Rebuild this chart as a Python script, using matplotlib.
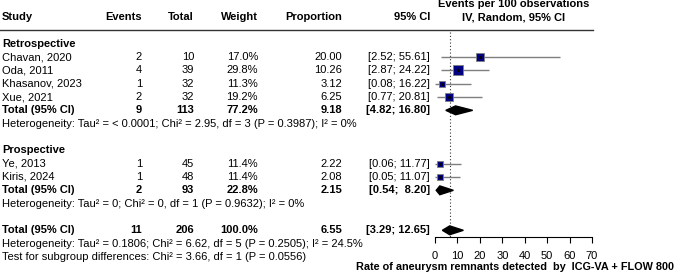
import matplotlib
matplotlib.use("Agg")
import matplotlib.pyplot as plt

plt.rcParams['font.family'] = ['Liberation Sans', 'DejaVu Sans']
plt.rcParams['font.size'] = 8

# dane - retrospektywne
retro_names = ["Chavan, 2020", "Oda, 2011", "Khasanov, 2023", "Xue, 2021"]
retro_events = [2, 4, 1, 2]
retro_total = [10, 39, 32, 32]
retro_weight = [17.0, 29.8, 11.3, 19.2]
retro_prop = [20.00, 10.26, 3.12, 6.25]
retro_lo = [2.52, 2.87, 0.08, 0.77]
retro_hi = [55.61, 24.22, 16.22, 20.81]

# dane - prospektywne
pro_names = ["Ye, 2013", "Kiris, 2024"]
pro_events = [1, 1]
pro_total = [45, 48]
pro_weight = [11.4, 11.4]
pro_prop = [2.22, 2.08]
pro_lo = [0.06, 0.05]
pro_hi = [11.77, 11.07]

# podsumowania: retro, pro, ogolem
sum_events = [9, 2, 11]
sum_total = [113, 93, 206]
sum_weight = [77.2, 22.8, 100.0]
sum_prop = [9.18, 2.15, 6.55]
sum_lo = [4.82, 0.54, 3.29]
sum_hi = [16.80, 8.20, 12.65]

het_texts = [
    "Heterogeneity: Tau² = < 0.0001; Chi² = 2.95, df = 3 (P = 0.3987); I² = 0%",
    "Heterogeneity: Tau² = 0; Chi² = 0, df = 1 (P = 0.9632); I² = 0%",
    "Heterogeneity: Tau² = 0.1806; Chi² = 6.62, df = 5 (P = 0.2505); I² = 24.5%",
]
subgroup_text = "Test for subgroup differences: Chi² = 3.66, df = 1 (P = 0.0556)"
xticks = [0, 10, 20, 30, 40, 50, 60, 70]

W, H = 676, 276
fig = plt.figure(figsize=(W / 100, H / 100), dpi=100)

# wiersze: y = 3.7 + 13.33 * k (px)
row_px = 13.33
y_top = -3.7 / row_px
y_bot = (H - 3.7) / row_px

ax_t = fig.add_axes([0, 0, 1, 1])
ax_t.set_xlim(0, W)
ax_t.set_ylim(y_bot, y_top)
ax_t.axis('off')

x0, x70 = 435, 592
ax = fig.add_axes([x0 / W, 0, (x70 - x0) / W, 1])
ax.set_xlim(0, 70)
ax.set_ylim(y_bot, y_top)
ax.patch.set_alpha(0)

col_events, col_total, col_weight, col_prop, col_ci = 142, 194, 258, 342, 430

# naglowek
ax_t.text(2, 1, "Study", fontweight='bold', va='center')
for x, lab in [(col_events, "Events"), (col_total, "Total"), (col_weight, "Weight"),
               (col_prop, "Proportion"), (col_ci, "95% CI")]:
    ax_t.text(x, 1, lab, fontweight='bold', ha='right', va='center')
ax.text(35, 0.05, "Events per 100 observations", fontweight='bold', ha='center', va='center')
ax.text(35, 1, "IV, Random, 95% CI", fontweight='bold', ha='center', va='center')
ax_t.plot([0, 593], [1.97, 1.97], color='#333333', lw=1)


def fmt_ci(lo, hi):
    return f"[{lo:.2f}; {hi:5.2f}]".replace("[ ", "[")


def study_row(k, name, ev, tot, w, p, lo, hi):
    ax_t.text(2, k, name, va='center')
    ax_t.text(col_events, k, str(ev), ha='right', va='center')
    ax_t.text(col_total, k, str(tot), ha='right', va='center')
    ax_t.text(col_weight, k, f"{w:.1f}%", ha='right', va='center')
    ax_t.text(col_prop, k, f"{p:.2f}", ha='right', va='center')
    ax_t.text(col_ci, k, fmt_ci(lo, hi), ha='right', va='center')
    ax.plot([lo, hi], [k, k], color='#7f7f7f', lw=1, solid_capstyle='butt', zorder=2)
    ax.plot([p], [k], marker='s', markersize=1.45 * w ** 0.5, color='#000080',
            markeredgecolor='#808080', markeredgewidth=0.6, zorder=3)
    ax.plot([p], [k], marker='o', markersize=1.2, color='black', zorder=4)


def total_row(k, i):
    ax_t.text(2, k, "Total (95% CI)", fontweight='bold', va='center')
    ax_t.text(col_events, k, str(sum_events[i]), fontweight='bold', ha='right', va='center')
    ax_t.text(col_total, k, str(sum_total[i]), fontweight='bold', ha='right', va='center')
    ax_t.text(col_weight, k, f"{sum_weight[i]:.1f}%", fontweight='bold', ha='right', va='center')
    ax_t.text(col_prop, k, f"{sum_prop[i]:.2f}", fontweight='bold', ha='right', va='center')
    ax_t.text(col_ci, k, fmt_ci(sum_lo[i], sum_hi[i]), fontweight='bold', ha='right', va='center')
    h = 0.33
    ax.fill([sum_lo[i], sum_prop[i], sum_hi[i], sum_prop[i]], [k, k - h, k, k + h],
            color='black', zorder=3)


ax_t.text(2, 3, "Retrospective", fontweight='bold', va='center')
for j in range(len(retro_names)):
    study_row(4 + j, retro_names[j], retro_events[j], retro_total[j], retro_weight[j],
              retro_prop[j], retro_lo[j], retro_hi[j])
total_row(8, 0)
ax_t.text(2, 9, het_texts[0], va='center')

ax_t.text(2, 11, "Prospective", fontweight='bold', va='center')
for j in range(len(pro_names)):
    study_row(12 + j, pro_names[j], pro_events[j], pro_total[j], pro_weight[j],
              pro_prop[j], pro_lo[j], pro_hi[j])
total_row(14, 1)
ax_t.text(2, 15, het_texts[1], va='center')

total_row(17, 2)
ax_t.text(2, 18, het_texts[2], va='center')
ax_t.text(2, 19, subgroup_text, va='center')

# linia sumaryczna
ax.plot([sum_prop[2], sum_prop[2]], [2.1, 17.5], color='#333333', lw=0.8,
        linestyle=(0, (1, 2)), zorder=1)

# os x
for s in ['top', 'left', 'right']:
    ax.spines[s].set_visible(False)
ax.spines['bottom'].set_position(('data', 17.5))
ax.spines['bottom'].set_bounds(0, 70)
ax.spines['bottom'].set_linewidth(0.8)
ax.set_yticks([])
ax.set_xticks(xticks)
ax.tick_params(axis='x', direction='out', length=4, width=0.8, pad=6, labelsize=8)
xl_right = (674 - x0) / (x70 - x0) * 70
ax.text(xl_right, 19.75, "Rate of aneurysm remnants detected  by  ICG-VA + FLOW 800",
        fontweight='bold', fontsize=7.8, ha='right', va='center', clip_on=False)

fig.savefig("out.png", dpi=100)
